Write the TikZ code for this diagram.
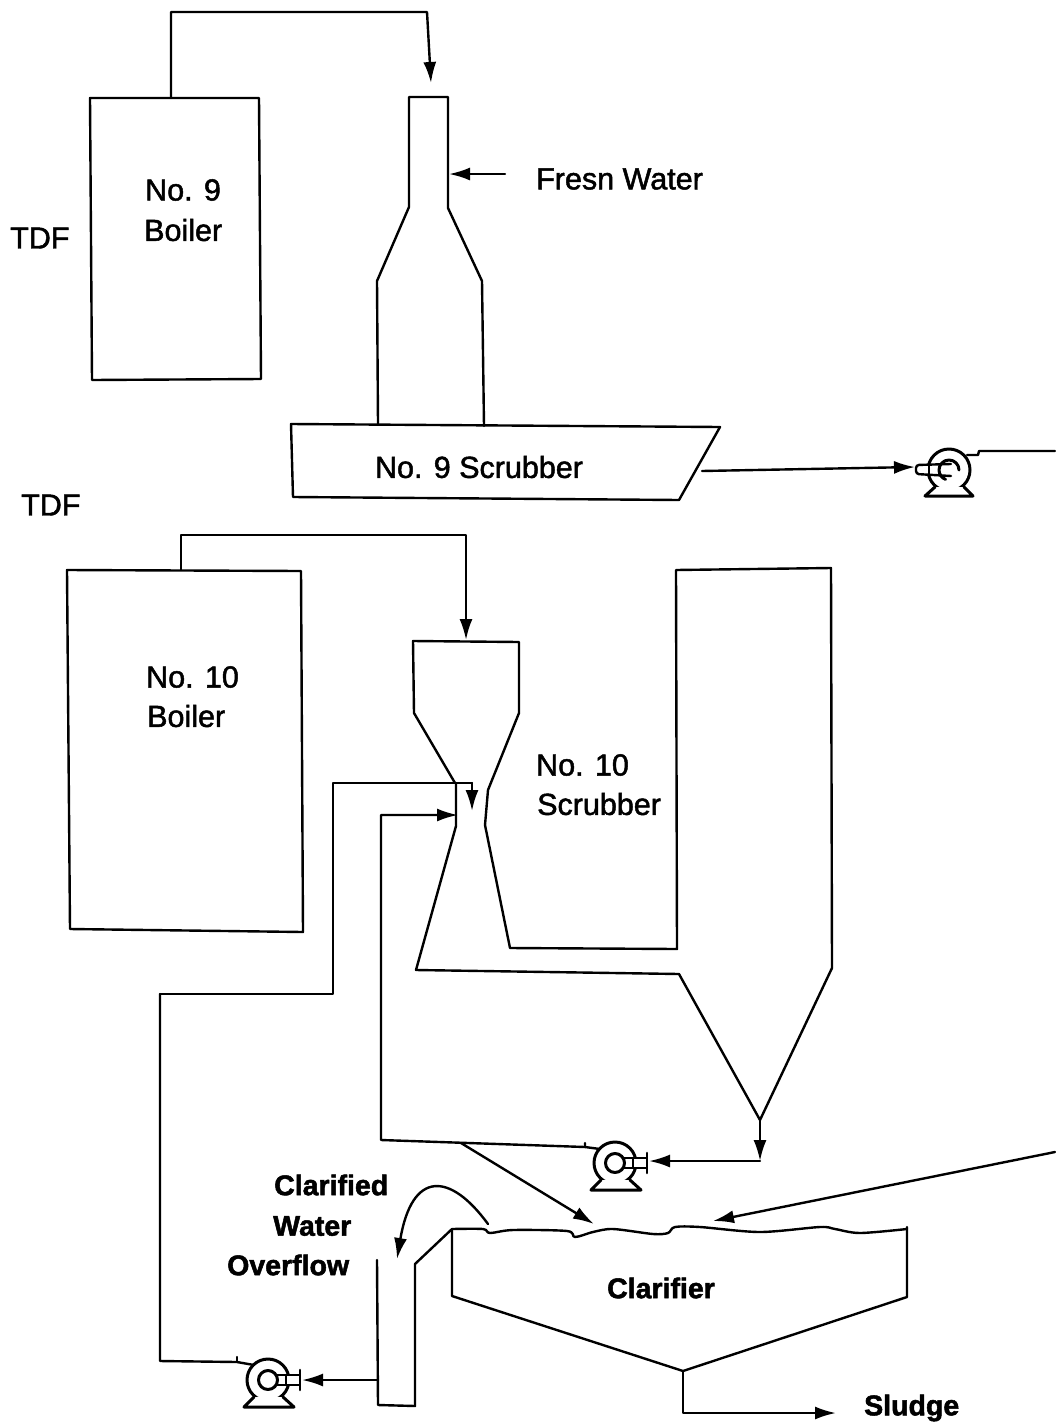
\documentclass[tikz,border=0pt]{standalone}
\usepackage{fontspec}
\setmainfont{Liberation Sans}
\newfontfamily\medfont[FakeBold=1.6]{Liberation Sans}
\newfontfamily\heavyfont[FakeBold=1.8]{Liberation Sans Bold}
\usetikzlibrary{arrows.meta}
\tikzset{
  line/.style={draw=black,line width=2.4pt,line join=round,line cap=round},
  flow/.style={line,-{Latex[length=21pt,width=13pt]}},
  lab/.style={font=\fontsize{30.5}{38}\medfont,inner sep=0pt,align=left},
  blab/.style={font=\fontsize{28.5}{34}\heavyfont,inner sep=0pt,align=center},
  pumpbody/.style={line,line width=3pt},
  pumpright/.pic={
    \draw[pumpbody] (0,0) circle (21pt);
    \draw[line,fill=white] (0,-5) -- (32,-5) -- (32,5) -- (0,5);
    \draw[line,line width=2.6pt] (32,-10) -- (32,10);
    \draw[line] (18,-5) -- (18,5);
    \draw[pumpbody,fill=white] (0,0) circle (9.5pt);
    \draw[pumpbody,fill=white] (-14,17) -- (-24,27) -- (26,27) -- (15,17);
  },
  pumpplain/.pic={
    \draw[pumpbody] (0,0) circle (21pt);
    \draw[line,fill=white,rounded corners=3pt] (2,-6) -- (-33,-5) -- (-33,4) -- (2,6);
    \draw[line] (-20,-5) -- (-20,5);
    \draw[pumpbody] (10,0) arc (0:250:10pt);
    \draw[pumpbody,fill=white] (-14,17) -- (-24,26) -- (24,26) -- (15,17);
  }
}
\begin{document}
\begin{tikzpicture}[x=1pt,y=-1pt]
\useasboundingbox (0,0) rectangle (1055,1424);
% coordinates
\coordinate (b9a) at (171,98);
\coordinate (b9top) at (171,12);
\coordinate (b9r) at (427,12);
\coordinate (s9in) at (431,83);
\coordinate (s9side) at (449,174);
\coordinate (fresh) at (505,174);
\coordinate (s9out) at (702,471);
\coordinate (endA) at (1055,451);
\coordinate (b10a) at (181,570);
\coordinate (b10top) at (181,535);
\coordinate (b10r) at (466,535);
\coordinate (s10in) at (466,640);
% Boiler 9
\draw[line] (90,98) -- (259,98) -- (261,379) -- (92,380) -- cycle;
\node[lab,anchor=west] (n9a) at (145,190) {No. 9};
\node[lab,anchor=west] (n9b) at (144,230) {Boiler};
\node[lab,anchor=west] (tdf1) at (10,238) {TDF};
\node[lab,anchor=west] (tdf2) at (21,505) {TDF};
% Scrubber 9
\draw[line] (378,424) -- (377,281) -- (409,207) -- (409,97) -- (448,97) -- (448,208) -- (482,281) -- (484,426);
\draw[line] (291,424) -- (720,427) -- (679,500) -- (293,497) -- cycle;
\node[lab] (s9t) at (479,467) {No. 9 Scrubber};
\node[lab,anchor=west] (fw) at (536,179) {Fresn Water};
\draw[flow] (b9a) -- (b9top) -- (b9r) -- (s9in);
\draw[flow] (fresh) -- (s9side);
% pump 1
\pic (p1) at (949,470) {pumpplain};
\coordinate (p1in) at (915,467);
\draw[flow] (s9out) -- (p1in);
\draw[line] (967,455) -- (978,455) -- (979,451) -- (endA);
% Boiler 10
\draw[line] (67,570) -- (301,571) -- (303,932) -- (70,929) -- cycle;
\node[lab,anchor=west] (n10a) at (146,677) {No. 10};
\node[lab,anchor=west] (n10b) at (147,716) {Boiler};
\draw[flow] (b10a) -- (b10top) -- (b10r) -- (s10in);
% Scrubber 10
\draw[line] (455,783) -- (414,713) -- (413,641) -- (519,642) -- (519,713) -- (488,790) -- (485,825) -- (510,948) -- (677,949) -- (676,570) -- (831,568) -- (832,968) -- (760,1120) -- (679,974) -- (416,970) -- (456,826) -- (456,783);
\node[lab,anchor=west] (s10a) at (536,765) {No. 10};
\node[lab,anchor=west] (s10b) at (537,804) {Scrubber};
% Pipes
\coordinate (hL) at (160,994);
\coordinate (hM) at (333,994);
\coordinate (hT) at (333,783);
\coordinate (hE) at (472,783);
\coordinate (hA) at (472,811);
\draw[line] (hL) -- (hM) -- (hT) -- (hE);
\draw[flow] (hE) -- (hA);
\coordinate (jB) at (381,1140);
\coordinate (jT) at (381,815);
\coordinate (jE) at (458,815);
\coordinate (jP) at (585,1147);
\draw[flow] (jP) -- (jB) -- (jT) -- (jE);
% Pump 2
\pic (p2) at (615,1163) {pumpright};
\coordinate (v) at (760,1120);
\coordinate (v2) at (760,1161);
\coordinate (p2in) at (649,1161);
\draw[flow] (v) -- (v2);
\draw[flow] (v2) -- (p2in);
\draw[line] (585,1143) -- (jP) -- (600,1149);
\coordinate (br) at (461,1143);
\coordinate (cl1) at (594,1224);
\draw[flow] (br) -- (cl1);
\coordinate (endB) at (1055,1152);
\coordinate (cl2) at (713,1221);
\draw[flow] (endB) -- (cl2);
% Clarifier
\draw[line] plot[smooth,tension=0.5] coordinates {(452,1229) (483,1229) (490,1233) (513,1230) (567,1231) (575,1237) (593,1232) (613,1229) (653,1234) (668,1233) (675,1227) (700,1227) (760,1232) (820,1227) (835,1229) (860,1233) (907,1229)};
\draw[line] (907,1227) -- (907,1297) -- (683,1371) -- (452,1296) -- (452,1229);
\node[blab] (cl) at (661,1288) {Clarifier};
% Overflow
\coordinate (ofS) at (488,1224);
\coordinate (ofE) at (397,1259);
\draw[flow] (ofS) .. controls (450,1172) and (412,1170) .. (ofE);
\draw[line] (377,1260) -- (378,1405) -- (415,1406) -- (415,1264) -- (452,1229);
\node[blab,anchor=west] (cw1) at (274,1185) {Clarified};
\node[blab,anchor=west] (cw2) at (273,1226) {Water};
\node[blab,anchor=west] (cw3) at (227,1265) {Overflow};
% Pump 3
\pic (p3) at (268,1380) {pumpright};
\coordinate (p3in) at (302,1380);
\coordinate (tank) at (378,1380);
\draw[flow] (tank) -- (p3in);
\coordinate (pipeL) at (160,1361);
\coordinate (pipeR) at (237,1362);
\draw[line] (hL) -- (pipeL) -- (pipeR) -- (254,1365);
\draw[line] (237,1357) -- (pipeR);
% Sludge
\coordinate (sl0) at (683,1371);
\coordinate (sl1) at (683,1413);
\coordinate (sl2) at (836,1413);
\draw[flow] (sl0) -- (sl1) -- (sl2);
\node[blab,anchor=west] (sl) at (864,1408) {Sludge};
\end{tikzpicture}
\end{document}
